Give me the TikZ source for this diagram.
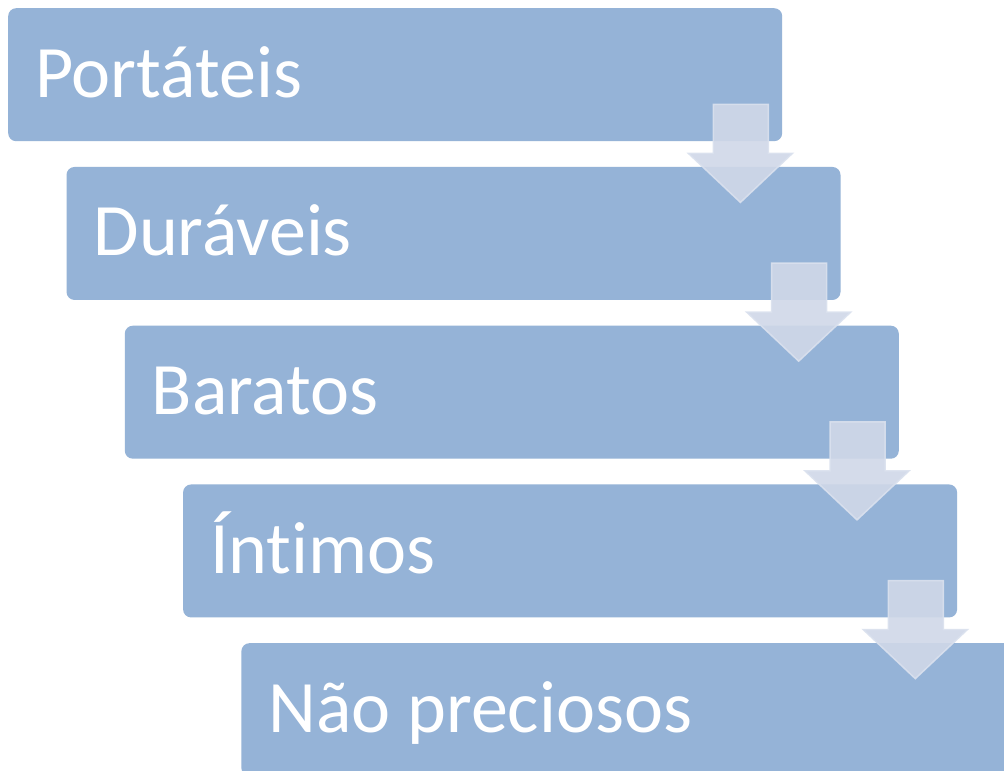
\documentclass[tikz,border=0pt]{standalone}
\usepackage{fontspec}
\setmainfont{Carlito}[Ligatures={NoCommon}]
\usetikzlibrary{calc}
\definecolor{boxblue}{HTML}{95B3D7}
\definecolor{arrowfill}{HTML}{D0D8E8}
\definecolor{arrowedge}{HTML}{DAE1EE}
\tikzset{
  stepbox/.style={fill=boxblue, draw=none, rounded corners=8pt, minimum width=774pt, minimum height=133pt, anchor=north west, inner sep=0pt},
  steptext/.style={anchor=base west, text=white, inner sep=0pt, font=\fontsize{74pt}{78pt}\selectfont},
  flowarrow/.style={fill=arrowfill, fill opacity=0.9, draw=arrowedge, draw opacity=0.9, line width=1.5pt, line join=miter}
}
\begin{document}
\begin{tikzpicture}[x=1pt,y=-1pt]
\useasboundingbox (0,0) rectangle (1004,771);
\clip (0,0) rectangle (1004,771);
\fill[white] (0,0) rectangle (1004,771);
\foreach \i/\t [evaluate=\i as \xx using {8+58.3*(\i-1)}, evaluate=\i as \yy using {8+158.75*(\i-1)}] in
  {1/Portáteis, 2/Duráveis, 3/Baratos, 4/Íntimos, 5/Não preciosos} {
  \node[stepbox] (b\i) at (\xx,\yy) {};
  \node[steptext] (t\i) at ($(b\i.north west)+(27,89)$) {\t};
}
\foreach \i [count=\j from 2] in {1,2,3,4} {
  \coordinate (a\i) at (b\i.south east);
  \draw[flowarrow]
    ($(a\i)+(-69,-37)$) -- ($(a\i)+(-14,-37)$) -- ($(a\i)+(-14,12)$) -- ($(a\i)+(10,12)$)
    -- ($(a\i)+(-42,61)$) -- ($(a\i)+(-94,12)$) -- ($(a\i)+(-69,12)$) -- cycle;
}
\end{tikzpicture}
\end{document}
